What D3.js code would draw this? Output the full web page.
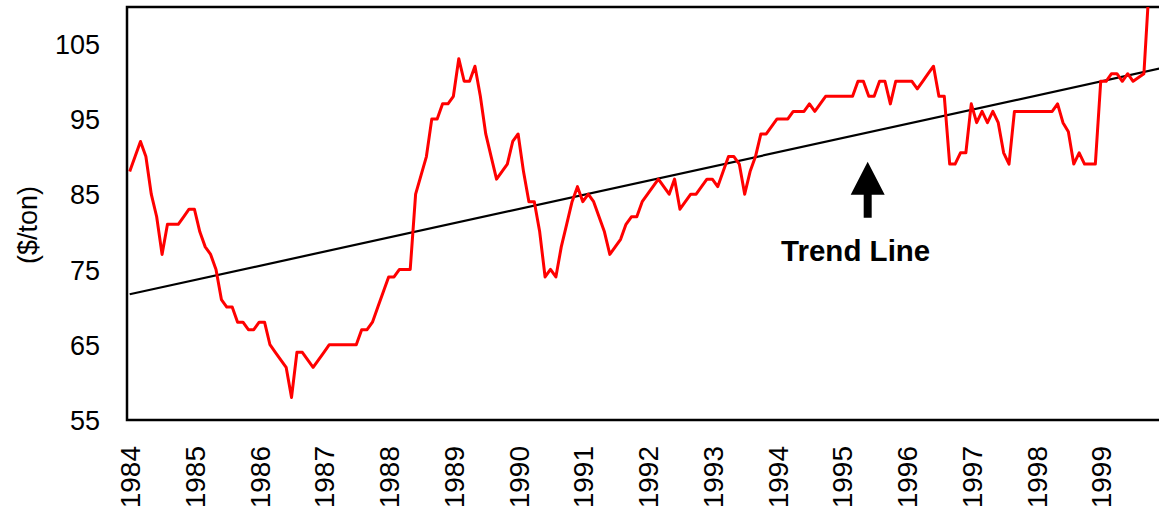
<!DOCTYPE html>
<html>
<head>
<meta charset="utf-8">
<script src="https://cdn.jsdelivr.net/npm/d3@7"></script>
<style>
  html, body { margin: 0; padding: 0; background: #fff; }
  svg { display: block; font-family: "Liberation Sans", Arial, sans-serif; }
</style>
</head>
<body>
<svg id="chart"></svg>
<script>
// monthly price, Jan 1984 onward ($/ton)
const startYear = 1984;
const prices = [
  88, 90, 92, 90, 85, 82, 77, 81, 81, 81, 82, 83,       // 1984
  83, 80, 78, 77, 75, 71, 70, 70, 68, 68, 67, 67,       // 1985
  68, 68, 65, 64, 63, 62, 58, 64, 64, 63, 62, 63,       // 1986
  64, 65, 65, 65, 65, 65, 65, 67, 67, 68, 70, 72,       // 1987
  74, 74, 75, 75, 75, 85, 87.5, 90, 95, 95, 97, 97,     // 1988
  98, 103, 100, 100, 102, 98, 93, 90, 87, 88, 89, 92,   // 1989
  93, 88, 84, 84, 80, 74, 75, 74, 78, 81, 84, 86,       // 1990
  84, 85, 84, 82, 80, 77, 78, 79, 81, 82, 82, 84,       // 1991
  85, 86, 87, 86, 85, 87, 83, 84, 85, 85, 86, 87,       // 1992
  87, 86, 88, 90, 90, 89, 85, 88, 90, 93, 93, 94,       // 1993
  95, 95, 95, 96, 96, 96, 97, 96, 97, 98, 98, 98,       // 1994
  98, 98, 98, 100, 100, 98, 98, 100, 100, 97, 100, 100, // 1995
  100, 100, 99, 100, 101, 102, 98, 98, 89, 89, 90.5, 90.5, // 1996
  97, 94.5, 96, 94.5, 96, 94.5, 90.5, 89, 96, 96, 96, 96,  // 1997
  96, 96, 96, 96, 97, 94.5, 93.3, 89, 90.5, 89, 89, 89,    // 1998
  100, 100, 101, 101, 100, 101, 100, 100.5, 101, 113       // 1999
];
const years = d3.range(1984, 2000);
const yTicks = [55, 65, 75, 85, 95, 105];
// fitted trend, value at first and last month
const trendMonths = [0, 191];
const trendValues = [71.7, 101.7];
const yLabel = "($/ton)";
const note = "Trend Line";

const W = 1159, H = 514;
const plot = { left: 127, right: 1159, top: 6, bottom: 420 };

const svg = d3.select("#chart").attr("width", W).attr("height", H);

const x = d3.scaleLinear()
  .domain([-0.5, 190.8])
  .range([plot.left, plot.right]);

const y = d3.scaleLinear()
  .domain([55, 110])
  .range([plot.bottom, plot.top]);

svg.append("clipPath").attr("id", "clip")
  .append("rect")
  .attr("x", plot.left).attr("y", plot.top + 1)
  .attr("width", plot.right - plot.left).attr("height", plot.bottom - plot.top - 1);

// y axis
const yAxis = svg.append("g")
  .attr("transform", `translate(${plot.left},0)`)
  .call(d3.axisLeft(y).tickValues(yTicks).tickSize(0).tickPadding(27));
yAxis.select("path.domain").remove();
yAxis.selectAll("text")
  .attr("font-size", 27)
  .attr("font-family", "Liberation Sans, Arial, sans-serif")
  .attr("fill", "#000")
  .attr("dy", "0.36em");

// x axis, year labels rotated
const xAxis = svg.append("g")
  .attr("transform", `translate(0,${plot.bottom})`)
  .call(d3.axisBottom(x)
    .tickValues(years.map(yr => (yr - startYear) * 12))
    .tickFormat(d => String(startYear + d / 12))
    .tickSize(0));
xAxis.select("path.domain").remove();
xAxis.selectAll("text")
  .attr("font-size", 28)
  .attr("font-family", "Liberation Sans, Arial, sans-serif")
  .attr("fill", "#000")
  .attr("text-anchor", "end")
  .attr("transform", "rotate(-90)")
  .attr("x", -26)
  .attr("y", 0)
  .attr("dy", "0.36em");

// frame: left, bottom, top
svg.append("path")
  .attr("d", `M${plot.right},${plot.top + 1}H${plot.left}V${plot.bottom}H${plot.right}`)
  .attr("fill", "none")
  .attr("stroke", "#000")
  .attr("stroke-width", 2.5);

// y label
svg.append("text")
  .attr("transform", `translate(27,${(plot.top + plot.bottom) / 2 + 12}) rotate(-90)`)
  .attr("text-anchor", "middle")
  .attr("dy", "0.36em")
  .attr("font-size", 27)
  .text(yLabel);

const g = svg.append("g").attr("clip-path", "url(#clip)");

// trend line
g.append("path")
  .datum(trendMonths.map((m, i) => [m, trendValues[i]]))
  .attr("fill", "none")
  .attr("stroke", "#000")
  .attr("stroke-width", 2.2)
  .attr("d", d3.line().x(d => x(d[0])).y(d => y(d[1])));

// price line
g.append("path")
  .datum(prices)
  .attr("fill", "none")
  .attr("stroke", "#ff0000")
  .attr("stroke-width", 3)
  .attr("stroke-linejoin", "round")
  .attr("d", d3.line().x((d, i) => x(i)).y(d => y(d)));

// arrow annotation pointing at trend line
const ax = x(136.8), ay = y(89.3);
svg.append("path")
  .attr("d", `M${ax},${ay}L${ax + 17},${ay + 33}H${ax + 4}V${ay + 56}H${ax - 4}V${ay + 33}H${ax - 17}Z`)
  .attr("fill", "#000");

svg.append("text")
  .attr("x", ax - 12)
  .attr("y", ay + 99)
  .attr("text-anchor", "middle")
  .attr("font-size", 29.5)
  .attr("font-weight", "bold")
  .text(note);
</script>
</body>
</html>
